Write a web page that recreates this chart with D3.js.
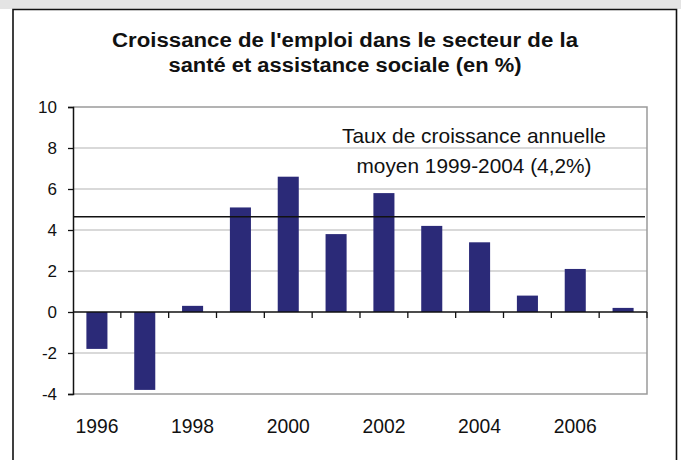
<!DOCTYPE html>
<html>
<head>
<meta charset="utf-8">
<script src="https://cdn.jsdelivr.net/npm/d3@7"></script>
<style>
  body { margin: 0; background: #fff; }
  svg { display: block; font-family: "Liberation Sans", Arial, sans-serif; }
</style>
</head>
<body>
<svg id="svg"></svg>
<script>
const width = 681, height = 460;

const years = [1996, 1997, 1998, 1999, 2000, 2001, 2002, 2003, 2004, 2005, 2006, 2007];
const growth = [-1.8, -3.8, 0.3, 5.1, 6.6, 3.8, 5.8, 4.2, 3.4, 0.8, 2.1, 0.2];
const yTicks = [-4, -2, 0, 2, 4, 6, 8, 10];
const xLabels = [1996, 1998, 2000, 2002, 2004, 2006];
const averageLine = 4.65;
const titleLines = ["Croissance de l'emploi dans le secteur de la", "santé et assistance sociale (en %)"];
const noteLines = ["Taux de croissance annuelle", "moyen 1999-2004 (4,2%)"];

const plot = { left: 73, right: 647, top: 107, bottom: 394 };

const svg = d3.select("#svg").attr("width", width).attr("height", height);

// frame
svg.append("rect").attr("x", 0).attr("y", 0).attr("width", width).attr("height", 9).attr("fill", "#e4e4e4");
svg.append("path")
    .attr("d", `M13,${height}V9.5H676.5V${height}`)
    .attr("fill", "none").attr("stroke", "#111").attr("stroke-width", 1.6);

const x = d3.scaleBand()
    .domain(years)
    .range([plot.left, plot.right])
    .paddingInner(0.56)
    .paddingOuter(0.28);

const y = d3.scaleLinear().domain([-4, 10]).range([plot.bottom, plot.top]);

// the source picture is a bit taller than wide, so text gets stretched
function stretchedText(parent, tx, ty, str, size, w, bold) {
    return parent.append("text")
        .attr("transform", `translate(${tx},${ty}) scale(1,1.1)`)
        .attr("text-anchor", "middle")
        .attr("font-size", size)
        .attr("font-weight", bold ? "bold" : "normal")
        .attr("fill", "#111")
        .attr("textLength", w)
        .attr("lengthAdjust", "spacingAndGlyphs")
        .text(str);
}

// title
const titleW = [466, 353];
const titleBase = [47, 72];
titleLines.forEach((t, i) => stretchedText(svg, 345, titleBase[i], t, 19, titleW[i], true));

// gridlines
svg.append("g")
    .selectAll("line")
    .data(yTicks.filter(d => d !== 0 && d !== -4 && d !== 10))
    .join("line")
    .attr("x1", plot.left).attr("x2", plot.right)
    .attr("y1", d => y(d)).attr("y2", d => y(d))
    .attr("stroke", "#cccccc").attr("stroke-width", 1.5);

// plot border (top, right, bottom)
svg.append("path")
    .attr("d", `M${plot.left},${plot.top}H${plot.right}V${plot.bottom}H${plot.left}`)
    .attr("fill", "none").attr("stroke", "#9a9a9a").attr("stroke-width", 1.5);

// bars
svg.append("g")
    .selectAll("rect")
    .data(years)
    .join("rect")
    .attr("x", d => x(d))
    .attr("width", x.bandwidth())
    .attr("y", (d, i) => y(Math.max(0, growth[i])))
    .attr("height", (d, i) => Math.abs(y(growth[i]) - y(0)))
    .attr("fill", "#2b2a78");

// y axis
const yAxis = svg.append("g")
    .attr("transform", `translate(${plot.left},0)`)
    .call(d3.axisLeft(y).tickValues(yTicks).tickSize(5).tickPadding(11).tickFormat(d3.format("d")));
yAxis.select(".domain").attr("stroke", "#111").attr("stroke-width", 1.5);
yAxis.selectAll(".tick line").attr("stroke", "#111").attr("stroke-width", 1.3);
yAxis.selectAll(".tick text")
    .attr("font-size", 17).attr("fill", "#111")
    .attr("font-family", "Liberation Sans, Arial, sans-serif")
    .text(d => d < 0 ? "-" + Math.abs(d) : d);

// zero line with boundary ticks
const step = x.step();
const bounds = d3.range(years.length + 1).map(i => plot.left + i * step);
svg.append("line")
    .attr("x1", plot.left).attr("x2", plot.right)
    .attr("y1", y(0)).attr("y2", y(0))
    .attr("stroke", "#111").attr("stroke-width", 1.5);
svg.append("g")
    .selectAll("line")
    .data(bounds.slice(1))
    .join("line")
    .attr("x1", d => d).attr("x2", d => d)
    .attr("y1", y(0)).attr("y2", y(0) + 6)
    .attr("stroke", "#111").attr("stroke-width", 1.3);

// x labels
const xg = svg.append("g");
xLabels.forEach(d => stretchedText(xg, x(d) + x.bandwidth() / 2, 433, d, 19, 43, false));

// average line
svg.append("line")
    .attr("x1", plot.left).attr("x2", plot.right - 2)
    .attr("y1", y(averageLine)).attr("y2", y(averageLine))
    .attr("stroke", "#111").attr("stroke-width", 1.6);

// note
const noteW = [264, 235];
const noteBase = [143, 173];
noteLines.forEach((t, i) => stretchedText(svg, 474, noteBase[i], t, 19, noteW[i], false));
</script>
</body>
</html>
